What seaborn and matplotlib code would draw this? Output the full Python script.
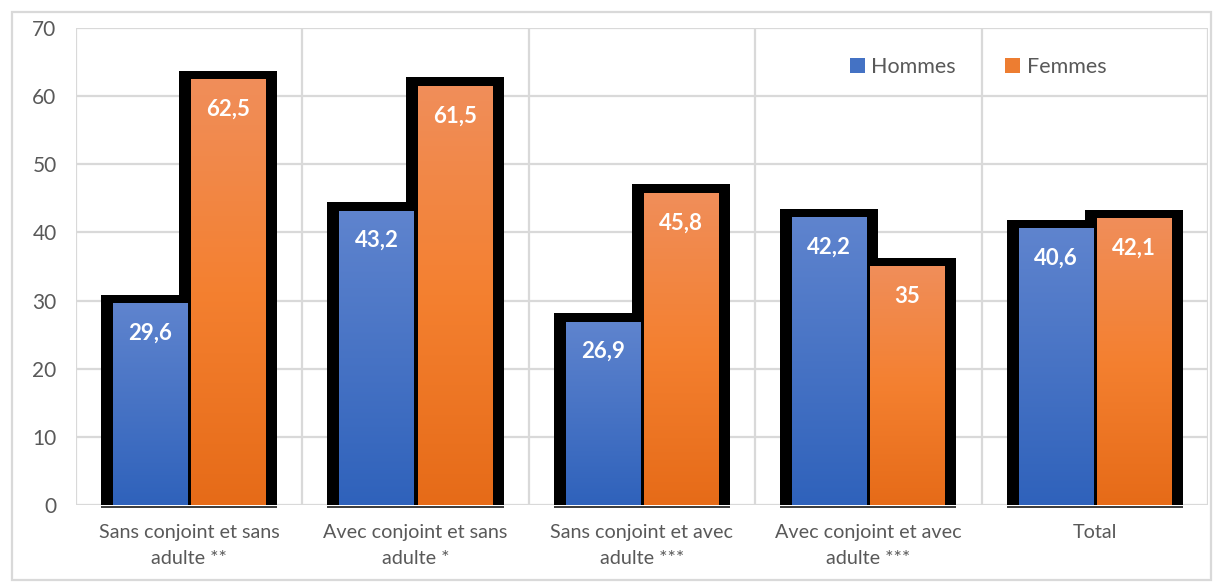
import numpy as np
import pandas as pd
import matplotlib
matplotlib.use("Agg")
import matplotlib.pyplot as plt
from matplotlib.patches import Rectangle
from matplotlib.colors import LinearSegmentedColormap
import seaborn as sns

categories = [
    "Sans conjoint et sans\nadulte **",
    "Avec conjoint et sans\nadulte *",
    "Sans conjoint et avec\nadulte ***",
    "Avec conjoint et avec\nadulte ***",
    "Total",
]
hommes = [29.6, 43.2, 26.9, 42.2, 40.6]
femmes = [62.5, 61.5, 45.8, 35.0, 42.1]
series = ["Hommes", "Femmes"]
y_ticks = [0, 10, 20, 30, 40, 50, 60, 70]

df = pd.DataFrame({
    "categorie": categories * 2,
    "groupe": ["Hommes"] * len(categories) + ["Femmes"] * len(categories),
    "valeur": hommes + femmes,
})

base_colors = {"Hommes": "#4472c4", "Femmes": "#ed7d31"}
gradients = {
    "Hommes": LinearSegmentedColormap.from_list("h", ["#2f62bb", "#5f84ce"]),
    "Femmes": LinearSegmentedColormap.from_list("f", ["#e66b18", "#f48030", "#f08e5a"]),
}

sns.set_theme(style="white")
plt.rcParams["font.family"] = ["Lato", "DejaVu Sans"]

fig = plt.figure(figsize=(12.14, 5.82), dpi=100)
ax = fig.add_axes([0.0626, 0.1323, 0.9324, 0.8196])

sns.barplot(data=df, x="categorie", y="valeur", hue="groupe", hue_order=series,
            palette=base_colors, width=0.69, gap=0.05, ax=ax, legend=False,
            errorbar=None, zorder=3)

pad_x = 0.053
pad_top = 1.25
grad = np.linspace(0, 1, 256).reshape(-1, 1)

patches = list(ax.patches)
for i, p in enumerate(patches):
    grp = series[i // len(categories)]
    x0, w, h = p.get_x(), p.get_width(), p.get_height()
    # black frame behind each bar
    ax.add_patch(Rectangle((x0 - pad_x, 0), w + 2 * pad_x, h + pad_top,
                           facecolor="black", edgecolor="none", zorder=2))
    # thin dark rule under the frame
    ax.add_patch(Rectangle((x0 - pad_x, -0.45), w + 2 * pad_x, 0.3,
                           facecolor="#404040", edgecolor="none", zorder=2,
                           clip_on=False))
    # vertical gradient fill clipped to the bar
    im = ax.imshow(grad, cmap=gradients[grp], origin="lower", aspect="auto",
                   extent=[x0, x0 + w, 0, h], zorder=4, interpolation="bilinear")
    im.set_clip_path(p)
    p.set_facecolor("none")
    p.set_edgecolor("none")
    label = f"{h:.1f}".replace(".", ",")
    if label.endswith(",0"):
        label = label[:-2]
    ax.text(x0 + w / 2, h - 4.4, label, ha="center", va="center",
            color="white", fontsize=16, fontweight="bold", zorder=5)

ax.set_xlim(-0.5, len(categories) - 0.5)
ax.set_ylim(0, 70)
ax.set_yticks(y_ticks)
ax.set_xticks(range(len(categories)))
ax.set_xticklabels(categories, multialignment="center", linespacing=1.6)

grid_c = "#d9d9d9"
for yv in y_ticks[1:]:
    ax.axhline(yv, color=grid_c, lw=1.6, zorder=1)
for xv in np.arange(-0.5, len(categories), 1.0):
    ax.axvline(xv, color=grid_c, lw=1.6, zorder=1)
ax.axhline(0, color=grid_c, lw=1.6, zorder=1)

for s in ax.spines.values():
    s.set_visible(False)
ax.tick_params(axis="both", length=0, colors="#595959")
ax.tick_params(axis="y", labelsize=15, pad=14)
ax.tick_params(axis="x", labelsize=14.2, pad=14)
ax.set_xlabel("")
ax.set_ylabel("")

handles = [Rectangle((0, 0), 1, 1, facecolor=base_colors[s], edgecolor="none") for s in series]
ax.legend(handles, series, loc="center", bbox_to_anchor=(0.797, 0.918), ncol=2,
          frameon=False, fontsize=15.5, labelcolor="#595959", handlelength=0.7,
          handleheight=0.7, handletextpad=0.3, columnspacing=2.3)

fig.patches.append(Rectangle((12 / 1214, 2 / 582), 1199 / 1214, 568 / 582,
                             transform=fig.transFigure, facecolor="none",
                             edgecolor=grid_c, lw=1.6))

fig.savefig("out.png", dpi=100)
